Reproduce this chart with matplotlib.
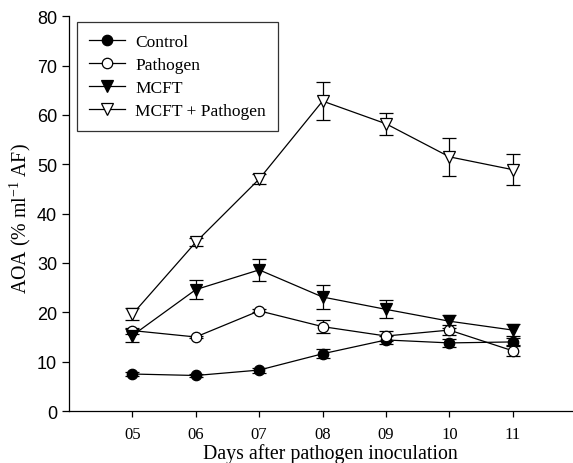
import matplotlib.pyplot as plt
from matplotlib.lines import Line2D

days = [5, 6, 7, 8, 9, 10, 11]
day_labels = ["05", "06", "07", "08", "09", "10", "11"]

control = [7.5, 7.2, 8.3, 11.6, 14.4, 13.8, 14.0]
control_err = [0.5, 0.3, 0.5, 0.9, 0.8, 0.85, 0.8]
pathogen = [16.3, 15.0, 20.3, 17.1, 15.2, 16.4, 12.2]
pathogen_err = [0.6, 0.3, 0.3, 1.3, 1.0, 1.0, 1.1]
mcft = [15.3, 24.6, 28.6, 23.1, 20.6, 18.2, 16.4]
mcft_err = [1.3, 1.85, 2.25, 2.5, 1.8, 1.3, 1.15]
mcft_path = [19.6, 34.2, 47.0, 62.8, 58.2, 51.5, 48.9]
mcft_path_err = [1.2, 0.8, 1.0, 3.9, 2.2, 3.9, 3.2]

serif = "Liberation Serif"
sans = "Liberation Sans"
plt.rcParams["mathtext.fontset"] = "custom"
plt.rcParams["mathtext.rm"] = serif
plt.rcParams["mathtext.it"] = serif + ":italic"

fig = plt.figure(figsize=(5.73, 4.64), dpi=100)
ax = fig.add_axes([0.1204, 0.112, 0.8796, 0.851])

series = [
    ("Control", control, control_err, "o", "black", 7.5),
    ("Pathogen", pathogen, pathogen_err, "o", "white", 7.5),
    ("MCFT", mcft, mcft_err, "v", "black", 8),
    ("MCFT + Pathogen", mcft_path, mcft_path_err, "v", "white", 8),
]
handles = []
for name, vals, err, mk, fc, ms in series:
    ax.errorbar(days, vals, yerr=err, color="black", lw=0.9, marker=mk,
                markersize=ms, markerfacecolor=fc, markeredgecolor="black",
                markeredgewidth=0.9, ecolor="black", elinewidth=0.9,
                capsize=5, capthick=0.9)
    handles.append(Line2D([], [], color="black", lw=0.9, marker=mk, markersize=ms,
                          markerfacecolor=fc, markeredgecolor="black",
                          markeredgewidth=0.9, label=name))

ax.set_xlim(4, 11.95)
ax.set_ylim(0, 80)
ax.set_xticks(days)
ax.set_xticklabels(day_labels, family=serif, fontsize=12)
ax.set_yticks(range(0, 81, 10))
for t in ax.get_yticklabels():
    t.set_family(sans)
    t.set_fontsize(13)
ax.tick_params(direction="out", length=4, width=0.9, color="black")
ax.tick_params(axis="x", pad=6.5)
ax.tick_params(axis="y", length=5)
ax.spines["top"].set_visible(False)
ax.spines["right"].set_visible(False)
for s in ("left", "bottom"):
    ax.spines[s].set_linewidth(0.9)

ax.set_xlabel("Days after pathogen inoculation", family=serif, fontsize=14.3, va="baseline")
ax.xaxis.set_label_coords(0.518, -0.118)
ax.set_ylabel(r"AOA (% ml$^{\mathrm{-1}}$ AF)", family=serif, fontsize=14.3, va="center")
ax.yaxis.set_label_coords(-0.097, 0.49)

leg = ax.legend(handles=handles, loc="upper left", bbox_to_anchor=(0.016, 0.985),
                borderaxespad=0, frameon=True, fancybox=False, edgecolor="black",
                prop={"family": serif, "size": 12.5}, handlelength=2.05,
                borderpad=0.7, labelspacing=0.38, handletextpad=0.6)
leg.get_frame().set_linewidth(0.9)

plt.savefig("out.png", dpi=100)
